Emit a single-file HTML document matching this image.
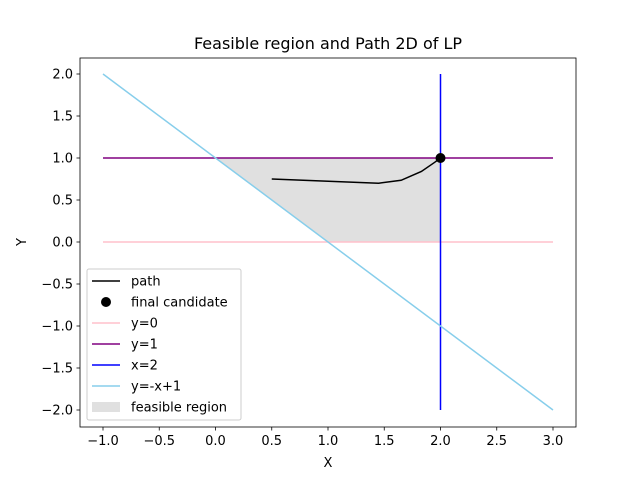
<!DOCTYPE html>
<html><head><meta charset="utf-8"><style>body{margin:0;background:#fff}svg{font-family:"DejaVu Sans","Liberation Sans",sans-serif}</style></head>
<body>
<svg id="c" width="640" height="480" xmlns="http://www.w3.org/2000/svg"></svg>
<script>
const pathX=[0.5,1.45,1.65,1.83,1.95,2.0];
const pathY=[0.75,0.7,0.735,0.84,0.95,1.0];
const finalPt=[2,1];
const xTicks=[-1.0,-0.5,0.0,0.5,1.0,1.5,2.0,2.5,3.0];
const yTicks=[-2.0,-1.5,-1.0,-0.5,0.0,0.5,1.0,1.5,2.0];
const region=[[0,1],[2,1],[2,0],[1,0]];
const L=80,R=576,T=58,B=427;
const sx=v=>103+(v+1)*112.5, sy=v=>242-v*84;
const svg=document.getElementById('c');const NS='http://www.w3.org/2000/svg';
function el(t,a,p){const e=document.createElementNS(NS,t);for(const k in a)e.setAttribute(k,a[k]);(p||svg).appendChild(e);return e;}
let e;
e=el('polygon',{points:region.map(p=>sx(p[0])+','+sy(p[1])).join(' '),fill:'#e0e0e0'});

function ln(x1,y1,x2,y2,c,n){const e=el('line',{x1:sx(x1),y1:sy(y1),x2:sx(x2),y2:sy(y2),stroke:c,'stroke-width':1.5});
}
ln(-1,0,3,0,'pink','line-y0');
ln(-1,1,3,1,'purple','line-y1');
ln(2,-2,2,2,'blue','line-x2');
ln(-1,2,3,-2,'skyblue','line-y-neg-x-plus-1');
e=el('polyline',{points:pathX.map((x,i)=>sx(x)+','+sy(pathY[i])).join(' '),fill:'none',stroke:'#000','stroke-width':1.5});

e=el('circle',{cx:sx(finalPt[0]),cy:sy(finalPt[1]),r:5,fill:'#000'});

e=el('rect',{x:L,y:T,width:R-L,height:B-T,fill:'none',stroke:'#000','stroke-width':0.8});

xTicks.forEach(v=>{const x=sx(v);el('line',{x1:x,y1:B,x2:x,y2:B+3.5,stroke:'#000','stroke-width':0.8});
const t=el('text',{x:x,y:B+18,'font-size':13,'text-anchor':'middle'});t.textContent=v.toFixed(1).replace('-','\u2212');
});
yTicks.forEach(v=>{const y=sy(v);el('line',{x1:L,y1:y,x2:L-3.5,y2:y,stroke:'#000','stroke-width':0.8});
const t=el('text',{x:L-7,y:y+4.5,'font-size':13,'text-anchor':'end'});t.textContent=v.toFixed(1).replace('-','\u2212');
});
e=el('text',{x:328,y:467,'font-size':13,'text-anchor':'middle'});e.textContent='X';

e=el('text',{x:26,y:242,'font-size':13,'text-anchor':'middle',transform:'rotate(-90 26 242)'});e.textContent='Y';

e=el('text',{x:328,y:49,'font-size':16,'text-anchor':'middle'});e.textContent='Feasible region and Path 2D of LP';

const lg=el('g',{});
el('rect',{x:87,y:269,width:154,height:151,rx:2,fill:'#fff','fill-opacity':0.8,stroke:'#ccc'},lg);
const items=[['path','line','#000'],['final candidate','dot','#000'],['y=0','line','pink'],['y=1','line','purple'],['x=2','line','blue'],['y=-x+1','line','skyblue'],['feasible region','patch','#e0e0e0']];
items.forEach((it,i)=>{const y=281+i*21;
if(it[1]=='line')el('line',{x1:92,y1:y,x2:120,y2:y,stroke:it[2],'stroke-width':1.5},lg);
else if(it[1]=='dot')el('circle',{cx:106,cy:y,r:5,fill:it[2]},lg);
else el('rect',{x:92,y:y-5,width:28,height:10,fill:it[2]},lg);
const t=el('text',{x:131,y:y+4.5,'font-size':13},lg);t.textContent=it[0];
});
</script>
</body></html>
